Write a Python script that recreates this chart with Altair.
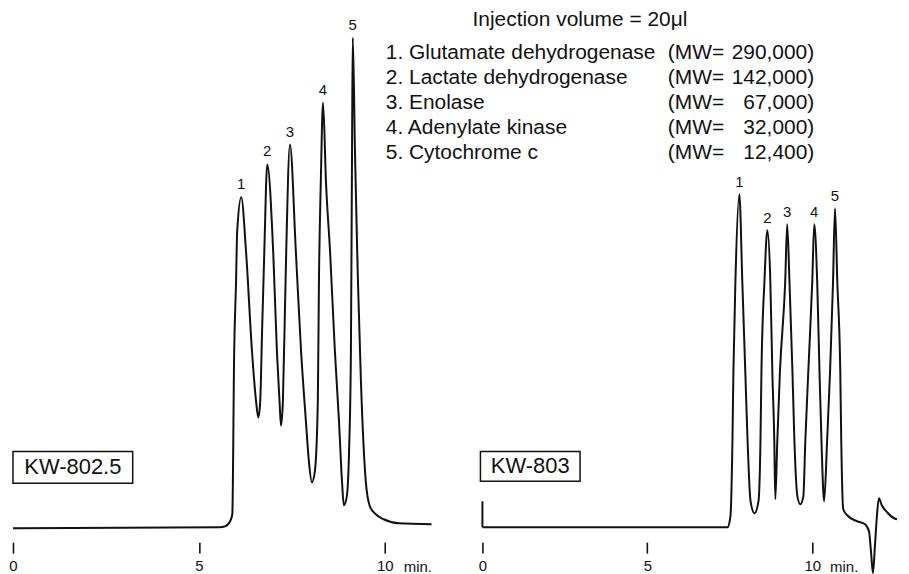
import altair as alt
import pandas as pd

# ---------------- data ----------------
# KW-802.5 trace (time in min, detector signal in arbitrary units)
left_time = [0, 5.55, 5.71, 5.84, 5.90, 5.95, 6.00, 6.03, 6.14, 6.27, 6.43, 6.54,
             6.60, 6.65, 6.70, 6.76, 6.84, 7.00, 7.10, 7.17, 7.21, 7.26, 7.32,
             7.35, 7.45, 7.61, 7.75, 7.88, 7.96, 8.04, 8.12, 8.20, 8.23, 8.28,
             8.34, 8.42, 8.53, 8.66, 8.77, 8.85, 8.90, 8.98, 9.04, 9.09, 9.12,
             9.14, 9.20, 9.26, 9.28, 9.36, 9.49, 9.60, 9.76, 9.97, 10.38, 11.26]
left_signal = [-0.2, 0, 0.2, 1.2, 2.6, 35.2, 49.2, 59.2, 66.2, 55.2, 35.2, 25.2,
               22.0, 25.2, 39.2, 55.2, 72.8, 55.2, 35.2, 25.2, 20.4, 25.2, 45.2,
               55.2, 76.8, 55.2, 35.2, 21.2, 13.2, 9.0, 11.2, 25.2, 49.2, 69.2,
               85.2, 69.2, 55.2, 35.2, 21.2, 9.2, 4.4, 6.2, 15.2, 35.2, 75.2,
               98.2, 75.2, 55.2, 49.2, 29.2, 9.2, 4.2, 2.6, 1.6, 0.8, 0.6]

# KW-803 trace
right_time = [0, 7.43, 7.52, 7.58, 7.61, 7.67, 7.79, 7.88, 7.97, 8.04, 8.13, 8.25, 8.37,
              8.43, 8.46, 8.55, 8.64, 8.73, 8.79, 8.85, 8.88, 8.94, 9.02, 9.18, 9.24,
              9.31, 9.40, 9.46, 9.55, 9.64, 9.73, 9.79, 9.88, 10.00, 10.06, 10.15, 10.22,
              10.28, 10.36, 10.45, 10.54, 10.63, 10.69, 10.76, 10.85, 10.88, 10.94, 11.06,
              11.36, 11.60, 11.72, 11.78, 11.84, 11.90, 11.96, 12.02, 12.11, 12.27, 12.48, 12.57]
right_signal = [0, 0, 2.2, 17.2, 31.2, 49.2, 66.8, 49.2, 31.2, 17.2, 5.2, 2.8, 5.2,
                17.2, 31.2, 49.2, 59.6, 49.2, 31.2, 17.2, 5.6, 17.2, 31.2, 49.2, 60.8,
                49.2, 31.2, 17.2, 6.2, 4.6, 6.2, 17.2, 31.2, 49.2, 60.8, 49.2, 31.2,
                17.2, 5.2, 17.2, 31.2, 49.2, 64.0, 49.2, 31.2, 17.2, 3.6, 2.4,
                1.2, 0.6, -0.8, -4.8, -9.2, -3.8, 2.2, 5.8, 4.4, 3.0, 1.8, 1.6]
right_start_mark = [0, 5.2]   # pen mark at injection (signal from, to)

peak_numbers = ["1", "2", "3", "4", "5"]
left_peak_time = [6.14, 6.84, 7.45, 8.34, 9.14]
left_peak_height = [66.2, 72.8, 76.8, 85.2, 98.2]
right_peak_time = [7.79, 8.64, 9.24, 10.06, 10.69]
right_peak_height = [66.8, 59.6, 60.8, 60.8, 64.0]

tick_values = [0, 5, 10]
column_names = ["KW-802.5", "KW-803"]
injection_note = "Injection volume = 20\u03bcl"
proteins = ["1. Glutamate dehydrogenase", "2. Lactate dehydrogenase", "3. Enolase",
            "4. Adenylate kinase", "5. Cytochrome c"]
mw_values = ["290,000)", "142,000)", "67,000)", "32,000)", "12,400)"]

# ---------------- styling / layout ----------------
FONT = "Liberation Sans"
INK = "#111111"
Y_DOMAIN = [-0.8, 103.6]
PX_PER_UNIT = 5
HEIGHT = int(round((Y_DOMAIN[1] - Y_DOMAIN[0]) * PX_PER_UNIT))
LEFT_DOMAIN = [0, 11.394]
LEFT_W = 425
RIGHT_DOMAIN = [0, 12.57]
RIGHT_W = 416

y_scale = alt.Scale(domain=Y_DOMAIN, nice=False, zero=False)


def x_axis():
    return alt.Axis(values=tick_values, domain=False, grid=False, ticks=True,
                    tickSize=11, tickWidth=1.6, tickColor=INK, offset=11,
                    labelFontSize=15, labelFont=FONT, labelColor=INK,
                    labelPadding=5, labelFlush=False, labelAngle=0,
                    format="d", title=None)


def X(scale, field="t"):
    return alt.X(f"{field}:Q", scale=scale, axis=x_axis())


def Y(field="r"):
    return alt.Y(f"{field}:Q", scale=y_scale, axis=None)


def panel(time, signal, peak_t, peak_h, name, box, name_pos, min_t, domain, width, label_dy, extra=()):
    xs = alt.Scale(domain=domain, nice=False, zero=False)
    trace = alt.Chart(pd.DataFrame({"t": time, "r": signal})).mark_line(
        color=INK, strokeWidth=2, interpolate="monotone").encode(x=X(xs), y=Y())
    peaks = alt.Chart(pd.DataFrame({"t": peak_t, "r": peak_h, "n": peak_numbers})).mark_text(
        font=FONT, fontSize=15, color=INK, dy=label_dy, baseline="middle").encode(
        x=X(xs), y=Y(), text="n:N")
    bx = alt.Chart(pd.DataFrame({"t": [box[0]], "t2": [box[1]], "r": [box[2]], "r2": [box[3]]})).mark_rect(
        fill="white", stroke=INK, strokeWidth=1.5).encode(
        x=X(xs), x2="t2:Q", y=Y(), y2="r2:Q")
    bt = alt.Chart(pd.DataFrame({"t": [name_pos[0]], "r": [name_pos[1]], "s": [name]})).mark_text(
        font=FONT, fontSize=22, color=INK, baseline="middle", align="center").encode(
        x=X(xs), y=Y(), text="s:N")
    unit = alt.Chart(pd.DataFrame({"t": [min_t], "r": [-8.9], "s": ["min."]})).mark_text(
        font=FONT, fontSize=15, color=INK, baseline="alphabetic", align="left").encode(
        x=X(xs), y=Y(), text="s:N")
    layers = [bx, bt, trace, peaks, unit] + [e(xs) for e in extra]
    return alt.layer(*layers).properties(width=width, height=HEIGHT)


def start_mark(xs):
    return alt.Chart(pd.DataFrame({"t": [0], "r": [right_start_mark[0]], "r2": [right_start_mark[1]]})).mark_rule(
        color=INK, strokeWidth=2).encode(x=X(xs), y=Y(), y2="r2:Q")


LIST_TOP = 94.0
LIST_STEP = 5.05
LIST_FONT = 21


def list_rows():
    return [LIST_TOP - i * LIST_STEP for i in range(len(proteins))]


def legend_names(xs):
    df = pd.DataFrame({"t": [-2.93] * len(proteins), "r": list_rows(), "s": proteins})
    return alt.Chart(df).mark_text(font=FONT, fontSize=LIST_FONT, color=INK, align="left",
                                   baseline="alphabetic").encode(x=X(xs), y=Y(), text="s:N")


def legend_mw(xs):
    df = pd.DataFrame({"t": [5.62] * len(proteins), "r": list_rows(), "s": ["(MW="] * len(proteins)})
    return alt.Chart(df).mark_text(font=FONT, fontSize=LIST_FONT, color=INK, align="left",
                                   baseline="alphabetic").encode(x=X(xs), y=Y(), text="s:N")


def legend_values(xs):
    df = pd.DataFrame({"t": [10.06] * len(proteins), "r": list_rows(), "s": mw_values})
    return alt.Chart(df).mark_text(font=FONT, fontSize=LIST_FONT, color=INK, align="right",
                                   baseline="alphabetic").encode(x=X(xs), y=Y(), text="s:N")


def injection(xs):
    df = pd.DataFrame({"t": [-0.30], "r": [100.6], "s": [injection_note]})
    return alt.Chart(df).mark_text(font=FONT, fontSize=LIST_FONT, color=INK, align="left",
                                   baseline="alphabetic").encode(x=X(xs), y=Y(), text="s:N")


left = panel(left_time, left_signal, left_peak_time, left_peak_height, column_names[0],
             box=[0, 3.22, 8.8, 15.2], name_pos=[1.61, 12.0], min_t=10.51,
             domain=LEFT_DOMAIN, width=LEFT_W, label_dy=-13)
right = panel(right_time, right_signal, right_peak_time, right_peak_height, column_names[1],
              box=[-0.06, 2.96, 9.2, 15.2], name_pos=[1.45, 12.2], min_t=10.54,
              domain=RIGHT_DOMAIN, width=RIGHT_W, label_dy=-12,
              extra=(start_mark, injection, legend_names, legend_mw, legend_values))

chart = alt.hconcat(left, right, spacing=46, bounds="flush", padding=0).configure(
    background="white").configure_view(strokeWidth=0)

chart.save("out.html", embed_options={"renderer": "svg", "actions": False})
